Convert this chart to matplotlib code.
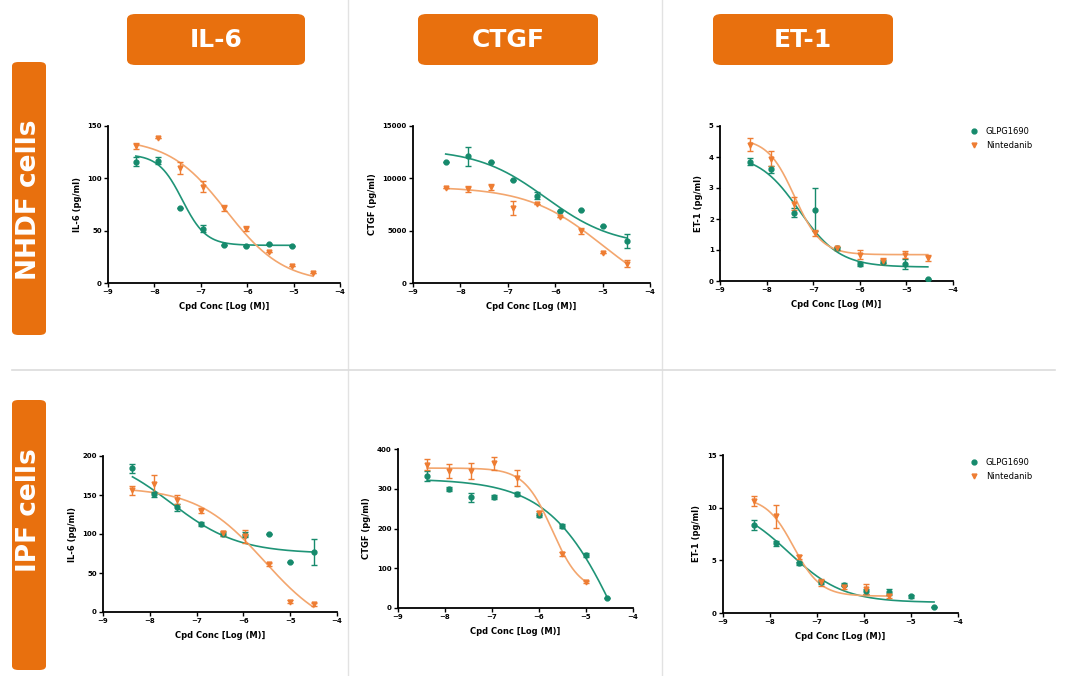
import numpy as np
import matplotlib
matplotlib.use('Agg')
import matplotlib.pyplot as plt
from matplotlib.patches import FancyBboxPatch
from matplotlib.lines import Line2D

W, H = 1066, 676

# ---------------- data ----------------
# NHDF cells
x_il6_nhdf = [-8.4, -7.92, -7.44, -6.96, -6.5, -6.02, -5.52, -5.04, -4.58]
il6_nhdf_glpg = [116, 117, 72, 52, 36, 35, 37, 35]
il6_nhdf_glpg_err = [4, 3, 0, 3, 0, 0, 0, 0]
il6_nhdf_nint = [131, 139, 110, 92, 72, 52, 30, 16, 10]
il6_nhdf_nint_err = [3, 0, 6, 5, 3, 2, 0, 0, 0]

x_ctgf_nhdf = [-8.31, -7.84, -7.35, -6.89, -6.39, -5.9, -5.46, -4.99, -4.49]
ctgf_nhdf_glpg = [11600, 12100, 11600, 9870, 8340, 6900, 7000, 5400, 4000]
ctgf_nhdf_glpg_err = [0, 900, 0, 0, 350, 0, 0, 0, 700]
ctgf_nhdf_nint = [9080, 8980, 9170, 7170, 7580, 6300, 4940, 2870, 1850]
ctgf_nhdf_nint_err = [0, 250, 250, 700, 0, 0, 300, 0, 300]

x_et1_nhdf = [-8.36, -7.91, -7.42, -6.96, -6.5, -6.0, -5.5, -5.02, -4.54]
et1_nhdf_glpg = [3.85, 3.6, 2.2, 2.3, 1.05, 0.55, 0.62, 0.55, 0.05]
et1_nhdf_glpg_err = [0.12, 0.1, 0.15, 0.7, 0.05, 0.05, 0.05, 0.15, 0]
et1_nhdf_nint = [4.4, 3.95, 2.5, 1.55, 1.05, 0.85, 0.65, 0.85, 0.75]
et1_nhdf_nint_err = [0.2, 0.25, 0.2, 0.1, 0.05, 0.15, 0.1, 0.12, 0.1]

# IPF cells
x_il6_ipf = [-8.37, -7.9, -7.41, -6.91, -6.44, -5.96, -5.46, -5.0, -4.5]
il6_ipf_glpg = [184, 151, 134, 113, 100, 99, 100, 64, 77]
il6_ipf_glpg_err = [6, 3, 5, 3, 3, 3, 0, 0, 17]
il6_ipf_nint = [156, 164, 144, 130, 101, 97, 61, 13, 10]
il6_ipf_nint_err = [6, 12, 6, 3, 3, 8, 2, 2, 2]

x_ctgf_ipf = [-8.38, -7.91, -7.44, -6.96, -6.47, -5.99, -5.52, -5.0, -4.55]
ctgf_ipf_glpg = [332, 300, 278, 280, 288, 234, 207, 134, 24]
ctgf_ipf_glpg_err = [12, 5, 12, 5, 5, 5, 5, 5, 0]
ctgf_ipf_nint = [361, 344, 344, 364, 326, 240, 137, 66]
ctgf_ipf_nint_err = [15, 18, 20, 17, 20, 5, 5, 3]

x_et1_ipf = [-8.33, -7.88, -7.38, -6.91, -6.43, -5.95, -5.47, -5.0, -4.51]
et1_ipf_glpg = [8.35, 6.6, 4.7, 2.95, 2.7, 2.05, 2.0, 1.6, 0.6]
et1_ipf_glpg_err = [0.45, 0.2, 0.15, 0.2, 0.15, 0.2, 0.3, 0.15, 0]
et1_ipf_nint = [10.65, 9.2, 5.3, 2.9, 2.5, 2.3, 1.6]
et1_ipf_nint_err = [0.45, 1.1, 0.2, 0.3, 0.2, 0.5, 0.2]

# 4PL curve parameters: (top, bottom, logIC50, hill)
fit_il6_nhdf = {'glpg': (123, 36, -7.4, 1.7), 'nint': (138, 0, -6.45, 0.7)}
fit_ctgf_nhdf = {'glpg': (12800, 3500, -6.2, 0.6), 'nint': (9200, -2000, -5.0, 0.55)}
fit_et1_nhdf = {'glpg': (4.1, 0.45, -7.3, 1.0), 'nint': (4.6, 0.85, -7.4, 1.5)}
fit_il6_ipf = {'glpg': (205, 75, -7.55, 0.6), 'nint': (160, -30, -5.55, 0.6)}
fit_ctgf_ipf = {'glpg': (325, -500, -4.1, 0.55), 'nint': (352, 40, -5.72, 1.45)}
fit_et1_ipf = {'glpg': (10.5, 1.0, -7.6, 0.75), 'nint': (11, 1.6, -7.5, 1.5)}

series_names = ['GLPG1690', 'Nintedanib']
col_headers = ['IL-6', 'CTGF', 'ET-1']
row_headers = ['NHDF cells', 'IPF cells']

TEAL = '#168a6c'
TEAL_LINE = '#1f9477'
ORANGE = '#ee7d33'
ORANGE_LINE = '#f3a66e'
HDR = '#e8700e'


def four_pl(x, p):
    top, bot, ic50, hill = p
    return bot + (top - bot) / (1 + 10 ** ((x - ic50) * hill))


def px_axes(x0, y0, x1, y1):
    return fig.add_axes([x0 / W, 1 - y1 / H, (x1 - x0) / W, (y1 - y0) / H])


def draw_panel(ax, xs, g, ge, n, ne, fit, ylim, yticks, ylabel):
    xg = xs[:len(g)]
    xn = xs[:len(n)]
    for xv, yv, ev, fp, c, cl, m in [(xg, g, ge, fit['glpg'], TEAL, TEAL_LINE, 'o'),
                                      (xn, n, ne, fit['nint'], ORANGE, ORANGE_LINE, 'v')]:
        xx = np.linspace(min(xv), max(xv), 200)
        ax.plot(xx, four_pl(xx, fp), color=cl, lw=1.2, zorder=2)
        ax.errorbar(xv, yv, yerr=ev, fmt=m, color=c, ms=3.5, capsize=2,
                    elinewidth=1, capthick=1, zorder=3)
    ax.set_xlim(-9, -4)
    ax.set_ylim(*ylim)
    ax.set_xticks([-9, -8, -7, -6, -5, -4])
    ax.set_yticks(yticks)
    for s in ['top', 'right']:
        ax.spines[s].set_visible(False)
    for s in ['left', 'bottom']:
        ax.spines[s].set_linewidth(1.3)
    ax.tick_params(labelsize=5, width=1, length=3, pad=1.5)
    for lab in ax.get_xticklabels() + ax.get_yticklabels():
        lab.set_fontweight('bold')
    ax.set_xlabel('Cpd Conc [Log (M)]', fontsize=6, fontweight='bold', labelpad=5)
    ax.set_ylabel(ylabel, fontsize=6, fontweight='bold', labelpad=4)
    ax.patch.set_alpha(0)


fig = plt.figure(figsize=(W / 100, H / 100), dpi=100)
fig.patch.set_facecolor('white')

# separators
fig.add_artist(Line2D([348 / W, 348 / W], [0, 1], color='#e2e2e2', lw=1))
fig.add_artist(Line2D([662 / W, 662 / W], [0, 1], color='#e2e2e2', lw=1))
fig.add_artist(Line2D([12 / W, 1055 / W], [1 - 370 / H, 1 - 370 / H], color='#dcdcdc', lw=1.2))

# header boxes
for label, (x0, x1) in zip(col_headers, [(127, 305), (418, 598), (713, 893)]):
    fig.add_artist(FancyBboxPatch((x0 / W, 1 - 65 / H), (x1 - x0) / W, 51 / H,
                                  boxstyle='round,pad=0,rounding_size=0.008',
                                  transform=fig.transFigure, fc=HDR, ec='none'))
    fig.text((x0 + x1) / 2 / W, 1 - 40 / H, label, color='white', fontsize=18,
             fontweight='bold', ha='center', va='center')

for label, (y0, y1), yc in zip(row_headers, [(62, 335), (400, 670)], [200, 510]):
    fig.add_artist(FancyBboxPatch((12 / W, 1 - y1 / H), 34 / W, (y1 - y0) / H,
                                  boxstyle='round,pad=0,rounding_size=0.006',
                                  transform=fig.transFigure, fc=HDR, ec='none'))
    fig.text(29 / W, 1 - yc / H, label, color='white', fontsize=19,
             fontweight='bold', rotation=90, ha='center', va='center')

# panels
ax1 = px_axes(108, 126, 340, 283)
draw_panel(ax1, x_il6_nhdf, il6_nhdf_glpg, il6_nhdf_glpg_err, il6_nhdf_nint, il6_nhdf_nint_err,
           fit_il6_nhdf, (0, 150), [0, 50, 100, 150], 'IL-6 (pg/ml)')
ax2 = px_axes(413, 126, 650, 283)
draw_panel(ax2, x_ctgf_nhdf, ctgf_nhdf_glpg, ctgf_nhdf_glpg_err, ctgf_nhdf_nint, ctgf_nhdf_nint_err,
           fit_ctgf_nhdf, (0, 15000), [0, 5000, 10000, 15000], 'CTGF (pg/ml)')
ax3 = px_axes(720, 126, 953, 281)
draw_panel(ax3, x_et1_nhdf, et1_nhdf_glpg, et1_nhdf_glpg_err, et1_nhdf_nint, et1_nhdf_nint_err,
           fit_et1_nhdf, (0, 5), [0, 1, 2, 3, 4, 5], 'ET-1 (pg/ml)')
ax4 = px_axes(103, 456, 337, 612)
draw_panel(ax4, x_il6_ipf, il6_ipf_glpg, il6_ipf_glpg_err, il6_ipf_nint, il6_ipf_nint_err,
           fit_il6_ipf, (0, 200), [0, 50, 100, 150, 200], 'IL-6 (pg/ml)')
ax5 = px_axes(398, 449, 633, 608)
draw_panel(ax5, x_ctgf_ipf, ctgf_ipf_glpg, ctgf_ipf_glpg_err, ctgf_ipf_nint, ctgf_ipf_nint_err,
           fit_ctgf_ipf, (0, 400), [0, 100, 200, 300, 400], 'CTGF (pg/ml)')
ax6 = px_axes(723, 455, 958, 613)
draw_panel(ax6, x_et1_ipf, et1_ipf_glpg, et1_ipf_glpg_err, et1_ipf_nint, et1_ipf_nint_err,
           fit_et1_ipf, (0, 15), [0, 5, 10, 15], 'ET-1 (pg/ml)')

# legends
handles = [Line2D([], [], color=TEAL, marker='o', ls='none', ms=3.5),
           Line2D([], [], color=ORANGE, marker='v', ls='none', ms=3.5)]
for yy in [124, 455]:
    fig.legend(handles, series_names, loc='upper left', bbox_to_anchor=(966 / W, 1 - yy / H),
               frameon=False, fontsize=6, handletextpad=0.8, labelspacing=0.6,
               borderaxespad=0, handlelength=1.2)

plt.savefig('out.png', dpi=100, facecolor='white')
